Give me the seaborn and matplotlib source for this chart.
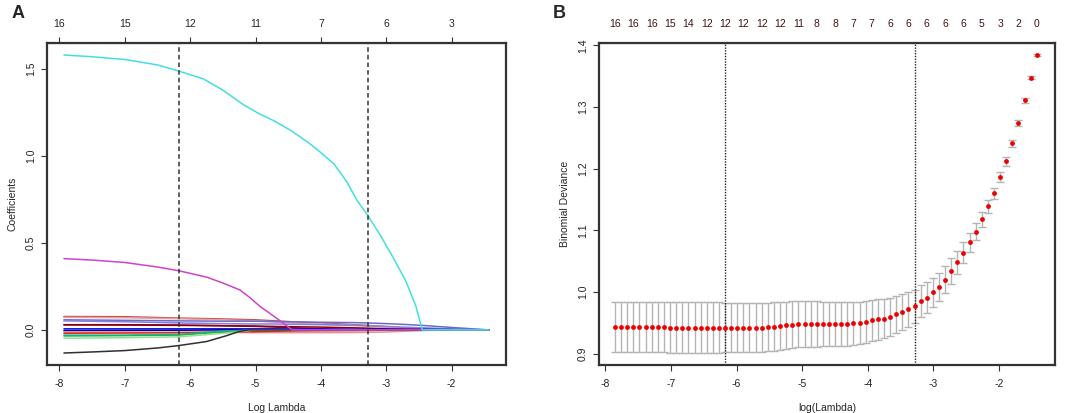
"""Lasso coefficient paths and cross-validated deviance, two panels"""

import matplotlib
matplotlib.use("Agg")
import matplotlib.pyplot as plt
import pandas as pd
import seaborn as sns

# ---- panel A: coefficient paths ----
# the small coefficients share one set of log-lambda knots
small_knots = [-7.93, -7.0, -6.17, -5.5, -5.0, -4.7, -4.4, -4.0, -3.5, -3.29, -3.0, -2.75, -2.45, -2.0, -1.43]
small_coefs = {
    "v01": [0.077, 0.076, 0.068, 0.063, 0.058, 0.052, 0.046, 0.040, 0.030, 0.026, 0.018, 0.012, 0.005, 0.0, 0.0],
    "v02": [0.072, 0.070, 0.064, 0.058, 0.052, 0.046, 0.040, 0.034, 0.026, 0.022, 0.016, 0.010, 0.004, 0.0, 0.0],
    "v03": [0.058, 0.055, 0.052, 0.050, 0.050, 0.048, 0.046, 0.044, 0.042, 0.040, 0.036, 0.032, 0.026, 0.014, 0.0],
    "v04": [0.052, 0.047, 0.040, 0.036, 0.034, 0.034, 0.032, 0.030, 0.026, 0.024, 0.020, 0.016, 0.012, 0.006, 0.0],
    "v05": [0.030, 0.030, 0.028, 0.024, 0.020, 0.016, 0.012, 0.006, 0.0, 0.0, 0.0, 0.0, 0.0, 0.0, 0.0],
    "v06": [0.029, 0.028, 0.026, 0.024, 0.022, 0.020, 0.018, 0.016, 0.012, 0.010, 0.006, 0.004, 0.002, 0.0, 0.0],
    "v07": [0.006, 0.006, 0.006, 0.006, 0.006, 0.006, 0.005, 0.005, 0.004, 0.004, 0.004, 0.003, 0.003, 0.002, 0.0],
    "v08": [-0.004, -0.003, -0.002, 0.0, 0.0, 0.0, 0.0, 0.0, 0.0, 0.0, 0.0, 0.0, 0.0, 0.0, 0.0],
    "v09": [-0.013, -0.013, -0.014, -0.015, -0.016, -0.016, -0.016, -0.016, -0.015, -0.014, -0.012, -0.008, -0.004, 0.0, 0.0],
    "v10": [-0.019, -0.018, -0.016, -0.012, -0.010, -0.008, -0.006, -0.005, -0.004, -0.003, -0.002, -0.001, 0.0, 0.0, 0.0],
    "v11": [-0.030, -0.030, -0.025, -0.008, 0.0, 0.0, 0.0, 0.0, 0.0, 0.0, 0.0, 0.0, 0.0, 0.0, 0.0],
    "v12": [-0.035, -0.033, -0.030, -0.012, 0.0, 0.0, 0.0, 0.0, 0.0, 0.0, 0.0, 0.0, 0.0, 0.0, 0.0],
    "v13": [-0.048, -0.045, -0.040, -0.020, 0.0, 0.0, 0.0, 0.0, 0.0, 0.0, 0.0, 0.0, 0.0, 0.0, 0.0],
}
# the three large ones have their own knots
black_knots = [-7.93, -7.5, -7.0, -6.5, -6.17, -5.75, -5.44, -5.26, -5.1, -1.43]
black_coef = [-0.133, -0.127, -0.119, -0.104, -0.090, -0.067, -0.033, -0.010, 0.0, 0.0]
magenta_knots = [-7.93, -7.5, -7.0, -6.5, -6.17, -5.75, -5.5, -5.24, -5.1, -4.93, -4.78, -4.63, -4.44, -1.43]
magenta_coef = [0.41, 0.402, 0.388, 0.362, 0.340, 0.304, 0.27, 0.23, 0.19, 0.135, 0.095, 0.054, 0.0, 0.0]
cyan_knots = [-7.93, -7.5, -7.0, -6.5, -6.17, -5.8, -5.5, -5.2, -4.95, -4.7, -4.45, -4.2, -4.0,
              -3.8, -3.6, -3.45, -3.29, -3.1, -2.9, -2.7, -2.55, -2.45, -1.43]
cyan_coef = [1.582, 1.572, 1.556, 1.525, 1.489, 1.445, 1.38, 1.30, 1.245, 1.20, 1.145, 1.08, 1.02,
             0.955, 0.85, 0.747, 0.663, 0.55, 0.42, 0.28, 0.14, 0.0, 0.0]

path_colors = {
    "v01": "#c0504d", "v02": "#e8a0a0", "v03": "#6a6acd", "v04": "#8080d8",
    "v05": "#800080", "v06": "#8b0000", "v07": "#0000ff", "v08": "#000080",
    "v09": "#e89090", "v10": "#e02020", "v11": "#20b2aa", "v12": "#22b14c",
    "v13": "#90e090", "v14": "#303030", "v15": "#cc44cc", "v16": "#40e0e0",
}
a_top_at = [-8, -7, -6, -5, -4, -3, -2]
a_top_labels = ["16", "15", "12", "11", "7", "6", "3"]

# ---- panel B: cross-validation curve ----
cv_loglam = [
    -7.853, -7.760, -7.667, -7.573, -7.480, -7.387, -7.294, -7.201, -7.107, -7.014,
    -6.921, -6.828, -6.735, -6.641, -6.548, -6.455, -6.362, -6.269, -6.175, -6.082,
    -5.989, -5.896, -5.803, -5.709, -5.616, -5.523, -5.430, -5.337, -5.243, -5.150,
    -5.057, -4.964, -4.871, -4.777, -4.684, -4.591, -4.498, -4.405, -4.311, -4.218,
    -4.125, -4.032, -3.939, -3.845, -3.752, -3.659, -3.566, -3.473, -3.379, -3.286,
    -3.193, -3.100, -3.007, -2.913, -2.820, -2.727, -2.634, -2.541, -2.447, -2.354,
    -2.261, -2.168, -2.075, -1.981, -1.888, -1.795, -1.702, -1.609, -1.515, -1.422,
]
cv_dev = [
    0.943, 0.943, 0.943, 0.943, 0.943, 0.943, 0.943, 0.943, 0.943, 0.942,
    0.942, 0.942, 0.942, 0.942, 0.942, 0.942, 0.942, 0.942, 0.942, 0.942,
    0.942, 0.942, 0.942, 0.942, 0.942, 0.943, 0.944, 0.945, 0.946, 0.947,
    0.948, 0.948, 0.948, 0.948, 0.948, 0.948, 0.948, 0.948, 0.948, 0.949,
    0.950, 0.951, 0.954, 0.9557, 0.957, 0.960, 0.964, 0.968, 0.972, 0.977,
    0.985, 0.991, 0.9995, 1.0086, 1.020, 1.0335, 1.048, 1.064, 1.081, 1.098,
    1.118, 1.139, 1.160, 1.186, 1.2125, 1.241, 1.274, 1.311, 1.348, 1.385,
]
cv_se = [
    0.041, 0.041, 0.041, 0.041, 0.041, 0.041, 0.041, 0.041, 0.041, 0.041,
    0.041, 0.041, 0.041, 0.041, 0.041, 0.041, 0.041, 0.041, 0.040, 0.040,
    0.040, 0.040, 0.040, 0.040, 0.040, 0.039, 0.039, 0.039, 0.038, 0.038,
    0.038, 0.037, 0.037, 0.037, 0.036, 0.036, 0.036, 0.035, 0.035, 0.035,
    0.034, 0.034, 0.033, 0.033, 0.032, 0.031, 0.030, 0.029, 0.028, 0.027,
    0.026, 0.025, 0.024, 0.023, 0.022, 0.021, 0.019, 0.0175, 0.0155, 0.0138,
    0.0122, 0.011, 0.0094, 0.0082, 0.0073, 0.0058, 0.005, 0.0037, 0.0027, 0.0017,
]
b_top_labels = ["16", "16", "16", "15", "14", "12", "12", "12", "12", "12", "11", "8",
                "8", "7", "7", "6", "6", "6", "6", "6", "5", "3", "2", "0"]

lambda_min = -6.175
lambda_1se = -3.286

sns.set_style("ticks")
plt.rcParams["font.family"] = ["Liberation Sans", "DejaVu Sans"]
plt.rcParams["axes.unicode_minus"] = False
FS = 7.5
FRAME = "#333333"


def r_style(ax):
    for side in ax.spines.values():
        side.set_color(FRAME)
        side.set_linewidth(1.6)
    ax.tick_params(axis="both", direction="out", length=4, width=0.8, color=FRAME,
                   labelsize=FS, pad=6, labelcolor="#222222")
    ax.tick_params(axis="y", pad=4)
    for lab in ax.get_yticklabels():
        lab.set_rotation(90)
        lab.set_va("center")


fig = plt.figure(figsize=(10.84, 4.13), dpi=100)
ax_a = fig.add_axes([47 / 1084, 48 / 413, 459 / 1084, 322 / 413])
ax_b = fig.add_axes([599 / 1084, 48 / 413, 456 / 1084, 322 / 413])

# panel A, long-form table of every path
rows = []
for name, vals in small_coefs.items():
    rows += [{"loglam": x, "coef": y, "var": name} for x, y in zip(small_knots, vals)]
rows += [{"loglam": x, "coef": y, "var": "v14"} for x, y in zip(black_knots, black_coef)]
rows += [{"loglam": x, "coef": y, "var": "v15"} for x, y in zip(magenta_knots, magenta_coef)]
rows += [{"loglam": x, "coef": y, "var": "v16"} for x, y in zip(cyan_knots, cyan_coef)]
paths = pd.DataFrame(rows)
sns.lineplot(data=paths, x="loglam", y="coef", hue="var", palette=path_colors,
             hue_order=list(path_colors.keys()), legend=False, linewidth=1.1,
             sort=False, estimator=None, ax=ax_a)
for v in (lambda_min, lambda_1se):
    ax_a.axvline(v, color="#333333", linestyle=(0, (3, 2)), linewidth=1.1)
ax_a.set_xlim(-8.189, -1.169)
ax_a.set_ylim(-0.202, 1.651)
ax_a.set_xticks([-8, -7, -6, -5, -4, -3, -2])
ax_a.set_yticks([0.0, 0.5, 1.0, 1.5])
ax_a.set_xlabel("Log Lambda", fontsize=FS, labelpad=10)
ax_a.set_ylabel("Coefficients", fontsize=FS, labelpad=6)
r_style(ax_a)
top_a = ax_a.secondary_xaxis("top")
top_a.set_xticks(a_top_at)
top_a.set_xticklabels(a_top_labels)
top_a.tick_params(direction="out", length=4, width=0.8, color=FRAME, labelsize=FS, pad=6)

# panel B
cv = pd.DataFrame({"loglam": cv_loglam, "dev": cv_dev, "se": cv_se})
ax_b.errorbar(cv["loglam"], cv["dev"], yerr=cv["se"], fmt="none", ecolor="#b4b4b4",
              elinewidth=1.0, capsize=3.2, capthick=1.0, zorder=2)
sns.scatterplot(data=cv, x="loglam", y="dev", color="#ee0000", s=12, linewidth=0,
                ax=ax_b, zorder=3)
for v in (lambda_min, lambda_1se):
    ax_b.axvline(v, color="#222222", linestyle=(0, (1, 1)), linewidth=1.0)
ax_b.set_xlim(-8.097, -1.145)
ax_b.set_ylim(0.8816, 1.404)
ax_b.set_xticks([-8, -7, -6, -5, -4, -3, -2])
ax_b.set_yticks([0.9, 1.0, 1.1, 1.2, 1.3, 1.4])
ax_b.set_xlabel("log(Lambda)", fontsize=FS, labelpad=10)
ax_b.set_ylabel("Binomial Deviance", fontsize=FS, labelpad=6)
r_style(ax_b)
top_b = ax_b.secondary_xaxis("top")
top_b.set_xticks(cv_loglam[::3])
top_b.set_xticklabels(b_top_labels)
top_b.tick_params(length=0, labelsize=FS, pad=10, labelcolor="#441111")

fig.text(12 / 1084, 1 - 13 / 413, "A", fontsize=13, fontweight="bold", va="center", ha="left")
fig.text(553 / 1084, 1 - 13 / 413, "B", fontsize=13, fontweight="bold", va="center", ha="left")

fig.savefig("out.png", dpi=100)
